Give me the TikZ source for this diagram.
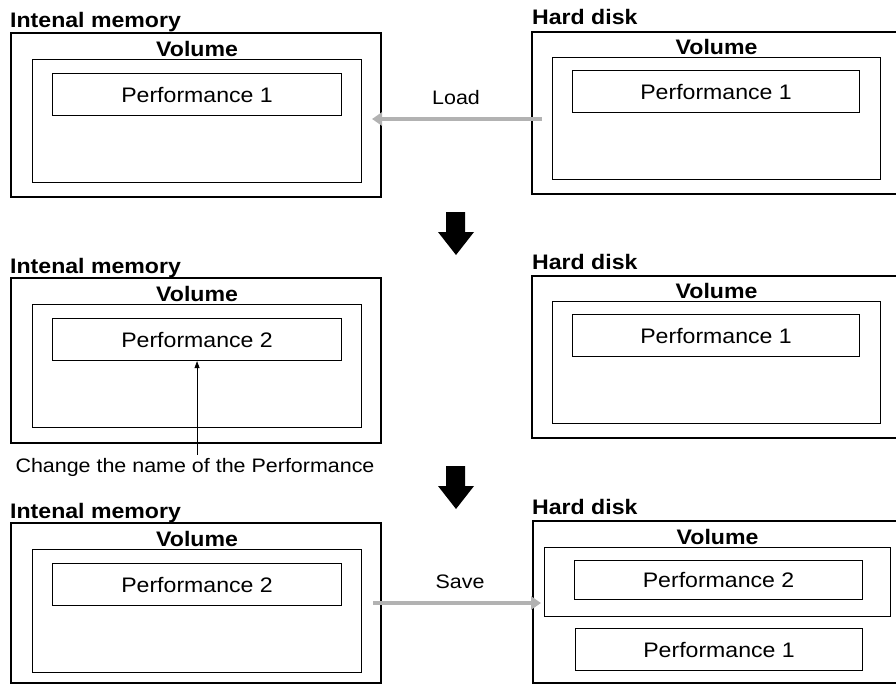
\documentclass[tikz,border=0pt]{standalone}
\usepackage{fontspec}
\setmainfont{Liberation Sans}[FakeStretch=1.1]
\usetikzlibrary{arrows.meta}

\tikzset{
	outerbox/.style={draw, line width=2.2pt, anchor=north west, inner sep=0pt},
	volbox/.style={draw, line width=1.1pt, anchor=north west, inner sep=0pt},
	perfbox/.style={draw, line width=1.1pt, anchor=north west, inner sep=0pt, font=\fontsize{21}{25}\selectfont},
	heading/.style={anchor=base west, inner sep=0pt, font=\fontsize{21}{25}\selectfont\bfseries},
	vollabel/.style={anchor=base, inner sep=0pt, font=\fontsize{21}{25}\selectfont\bfseries},
	flowlabel/.style={inner sep=0pt, font=\fontsize{19.5}{23}\selectfont},
	transfer/.style={draw=gray!60, line width=4pt, -{Triangle[length=10pt,width=13pt]}},
}

\begin{document}
\begin{tikzpicture}[x=1pt, y=-1pt]
	\useasboundingbox (0,0) rectangle (896,685);
	% internal memory, one per step
	\foreach \r/\y/\h/\p in {1/32/164/1, 2/277/165/2, 3/522/160/2} {
		\node[outerbox, minimum width=370, minimum height=\h] (mem\r) at (10,\y) {};
		\node[heading] (memlabel\r) at (10,{\y-4}) {Intenal memory};
		\node[volbox, minimum width=329, minimum height=123] (volm\r) at (32,{\y+27}) {};
		\node[vollabel] (volmlabel\r) at ([yshift=2.5pt]volm\r.north) {Volume};
		\node[perfbox, minimum width=289, minimum height=42] (perfm\r) at (52,{\y+41}) {Performance \p};
	}
	% hard disk, steps 1 and 2
	\foreach \r/\y in {1/31, 2/275} {
		\node[outerbox, minimum width=368, minimum height=162] (disk\r) at (531,\y) {};
		\node[heading] (disklabel\r) at (532,{\y-6}) {Hard disk};
		\node[volbox, minimum width=328, minimum height=122] (vold\r) at (552,{\y+26}) {};
		\node[vollabel] (voldlabel\r) at ([yshift=2.5pt]vold\r.north) {Volume};
		\node[perfbox, minimum width=287, minimum height=42] (perfd\r) at (572,{\y+39}) {Performance 1};
	}
	% hard disk, step 3
	\node[outerbox, minimum width=368, minimum height=162] (disk3) at (532,520) {};
	\node[heading] (disklabel3) at (532,514) {Hard disk};
	\node[volbox, minimum width=346, minimum height=69] (vold3) at (544,547) {};
	\node[vollabel] (voldlabel3) at ([yshift=2.5pt]vold3.north) {Volume};
	\node[perfbox, minimum width=288, minimum height=39] (perfd3) at (574,560) {Performance 2};
	\node[perfbox, minimum width=287, minimum height=42] (perfold) at (575,628) {Performance 1};
	
	% load and save
	\coordinate (loadfrom) at (542,119);
	\coordinate (loadto) at (372,119);
	\draw[transfer] (loadfrom) -- (loadto);
	\node[flowlabel] (load) at (456,98) {Load};
	\coordinate (savefrom) at (373,603);
	\coordinate (saveto) at (541,603);
	\draw[transfer] (savefrom) -- (saveto);
	\node[flowlabel] (save) at (460,582) {Save};
	
	% renaming
	\node[flowlabel, inner sep=3pt] (rename) at (195,467) {Change the name of the Performance};
	\draw[line width=0.7pt, -{Triangle[length=7pt,width=5pt]}] (perfm2.south |- rename.north) -- (perfm2.south);
	
	% steps
	\foreach \s in {0,254} {
		\fill (446,{212+\s}) -- (465,{212+\s}) -- (465,{232+\s}) -- (474,{232+\s}) -- (456,{255+\s}) -- (438,{232+\s}) -- (446,{232+\s}) -- cycle;
	}
\end{tikzpicture}
\end{document}
